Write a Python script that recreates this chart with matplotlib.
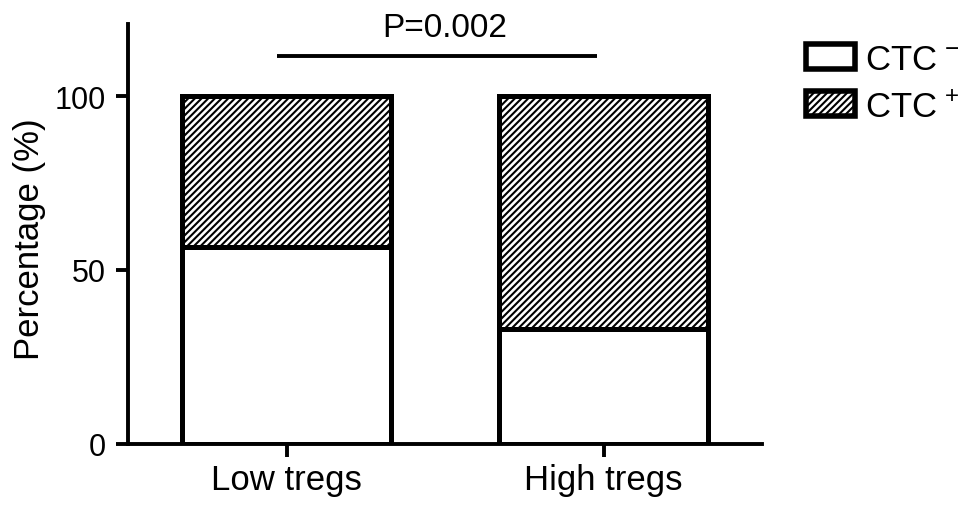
import matplotlib
matplotlib.use("Agg")
import matplotlib.pyplot as plt
from matplotlib.patches import Patch

plt.rcParams["font.family"] = ["Liberation Sans", "DejaVu Sans"]
plt.rcParams["mathtext.fontset"] = "custom"
plt.rcParams["mathtext.rm"] = "Liberation Sans"
plt.rcParams["hatch.linewidth"] = 1.5

groups = ["Low tregs", "High tregs"]
ctc_neg = [56.5, 33.0]
ctc_pos = [43.5, 67.0]
p_label = "P=0.002"
series_labels = [r"CTC$^{\ \mathregular{-}}$", r"CTC$^{\ \mathregular{+}}$"]

fig = plt.figure(figsize=(9.69, 5.10), dpi=100)
ax = fig.add_axes([0.1321, 0.1275, 0.6543, 0.8235])

x = range(len(groups))
ax.bar(x, ctc_neg, width=0.66, color="white", edgecolor="black", linewidth=3.6)
ax.bar(x, ctc_pos, width=0.66, bottom=ctc_neg, color="white", edgecolor="black",
       linewidth=3.6, hatch="/////")

ax.plot([-0.03, 0.98], [111.5, 111.5], color="black", linewidth=2.8,
        solid_capstyle="butt")
ax.text(0.5, 117.2, p_label, ha="center", va="baseline", fontsize=24)

ax.set_xlim(-0.5, 1.5)
ax.set_ylim(0, 120.7)
ax.set_yticks([0, 50, 100])
ax.set_xticks(list(x))
ax.set_xticklabels(groups)
ax.tick_params(width=2.8, length=9)
ax.tick_params(axis="x", labelsize=25, pad=5)
ax.tick_params(axis="y", labelsize=22, pad=7)
ax.set_ylabel("Percentage (%)", fontsize=25)
ax.yaxis.set_label_coords(-0.129, 0.49)
for s in ["top", "right"]:
    ax.spines[s].set_visible(False)
for s in ["left", "bottom"]:
    ax.spines[s].set_linewidth(2.8)

handles = [
    Patch(facecolor="white", edgecolor="black", linewidth=4),
    Patch(facecolor="white", edgecolor="black", linewidth=4, hatch="/////"),
]
fig.legend(handles, series_labels, loc="upper left", bbox_to_anchor=(0.8, 0.975),
           frameon=False, fontsize=25, handlelength=1.4, handleheight=0.72,
           labelspacing=0.4, handletextpad=0.3)

fig.savefig("out.png", dpi=100)
